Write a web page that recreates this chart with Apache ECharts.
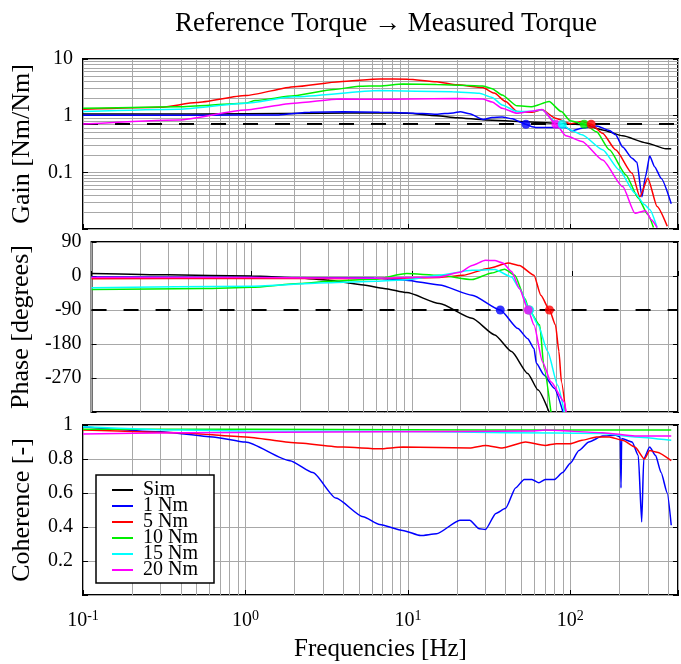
<!DOCTYPE html>
<html><head><meta charset="utf-8">
<script src="https://cdn.jsdelivr.net/npm/echarts@6/dist/echarts.min.js"></script>
<style>html,body{margin:0;padding:0;background:#fff}#c{width:681px;height:664px}</style>
</head><body><div id="c"></div>
<script>
// ---------- data (frequency [Hz], value) ----------
const seriesNames = ['Sim', '1 Nm', '5 Nm', '10 Nm', '15 Nm', '20 Nm'];

const gainSim = [[0.1,1.07],[0.3,1.07],[1,1.08],[3,1.1],[6,1.12],[10,1.1],[15,1.0],[20,0.92],[30,0.84],[53,0.78],[81,0.73],[122,0.7],[158,0.56],[210,0.44],[293,0.33],[388,0.26],[418,0.26]];
const gain1 = [[0.1,1.02],[0.5,1.02],[1.6,1.03],[2.5,1.15],[4,1.17],[6.7,1.15],[10,1.12],[15,1.06],[19,1.12],[21,1.17],[24,1.08],[29,0.86],[33,0.93],[38,0.95],[44,0.88],[50,0.76],[53,0.707],[58,0.64],[61,0.62],[80,0.62],[94,0.62],[102,0.54],[118,0.6],[145,0.66],[174,0.55],[190,0.46],[210,0.28],[240,0.178],[257,0.15],[276,0.037],[290,0.084],[308,0.195],[330,0.126],[362,0.079],[418,0.028]];
const gain5 = [[0.1,1.3],[0.3,1.41],[0.5,1.7],[1,2.26],[2,3.25],[3.8,3.98],[6.7,4.45],[10,4.4],[15,3.98],[20,3.5],[28.8,3.13],[34,2.5],[40,1.77],[47,1.18],[58,1.15],[67,1.27],[81,0.9],[100,0.72],[118,0.79],[134,0.707],[158,0.49],[190,0.25],[240,0.096],[268,0.037],[300,0.079],[342,0.025],[395,0.0112]];
const gain10 = [[0.1,1.35],[0.39,1.44],[1,1.66],[1.15,1.85],[2,2.25],[3.5,2.9],[5,3.3],[6.7,3.35],[9.3,3.62],[15,3.55],[28.8,3.35],[33,3.0],[38,2.31],[47,1.49],[58,1.44],[74,1.77],[88,1.18],[100,0.81],[121.7,0.707],[145,0.52],[174,0.25],[220,0.09],[262,0.035],[300,0.018],[325,0.0106]];
const gain15 = [[0.1,1.18],[0.39,1.3],[1,1.66],[2,2.15],[6.7,2.77],[18.8,2.65],[27.5,2.48],[33,2.1],[38,1.55],[47,1.18],[58,1.2],[67,1.27],[80,0.8],[89.2,0.707],[100,0.56],[118,0.46],[158,0.25],[200,0.11],[250,0.043],[286,0.027],[308,0.022],[342,0.0106]];
const gain20 = [[0.1,0.71],[0.39,0.84],[1,1.26],[2,1.66],[3.8,1.97],[6.7,1.94],[10,1.97],[20,2.0],[28.8,1.97],[33,1.75],[38,1.35],[47,1.1],[58,1.2],[67,1.29],[81.5,0.707],[94,0.44],[118,0.35],[158,0.165],[210,0.056],[250,0.019],[290,0.021],[315,0.0146],[342,0.0106]];

const phaseSim = [[0.1,6.5],[0.3,3],[1,0],[2,-5],[3,-11],[5,-24],[6.7,-33],[9.3,-44],[14.9,-73],[23.8,-112],[33,-156],[42,-200],[53,-258],[61.5,-302],[72,-360]];
const phase1 = [[0.1,-2.5],[1,-4],[5.8,-5],[9.2,-11],[14.9,-24],[23.8,-51],[35.7,-90],[46,-139],[53,-166],[58,-192],[60,-231],[67,-262],[77.6,-297],[88,-360]];
const phase5 = [[0.1,-7],[1,-6],[5.8,-7],[14.9,-4],[20.9,2],[30,20],[40,34.5],[47,28],[58,2],[64,-51],[72.4,-90],[79,-130],[83,-200],[86,-280],[91.5,-360]];
const phase10 = [[0.1,-36],[0.5,-33],[1,-30],[2,-20],[3,-14],[5.8,-8.6],[9.3,6.5],[14.9,2],[23.8,-9.5],[31.6,8],[38,18],[44,2],[51,-60],[54,-90],[63,-130],[67,-244],[74,-360]];
const phase15 = [[0.1,-31],[1,-27],[3,-18],[6,-14],[9.3,-9.6],[14.9,2],[23.8,15],[33,17],[42,-2.5],[47,-33],[54.5,-90],[61.5,-130],[70.6,-200],[81.5,-289],[89.6,-360]];
const phase20 = [[0.1,-4],[1,-4],[5.8,-6],[14.9,-2.5],[20,10],[23.8,28],[28.8,41.6],[33,41],[37,34.6],[42,12],[47,-33],[53.3,-90],[58,-130],[65.5,-227],[74,-280],[89.6,-333],[92,-360]];

const coh1 = [[0.1,0.99],[0.3,0.96],[0.63,0.93],[1,0.9],[1.88,0.79],[2.6,0.72],[3.6,0.57],[5.3,0.46],[6.7,0.415],[9.3,0.38],[12,0.35],[15,0.36],[20.9,0.44],[24,0.44],[27.5,0.39],[30,0.385],[34.8,0.48],[40,0.51],[46,0.63],[52,0.68],[58,0.68],[64,0.66],[70,0.68],[80,0.68],[89.6,0.72],[100,0.775],[113,0.85],[130,0.9],[158,0.935],[190,0.94],[203,0.93],[205,0.63],[207,0.92],[240,0.9],[262,0.82],[275,0.43],[283,0.8],[308,0.87],[335,0.82],[362,0.72],[395,0.6],[418,0.41]];
const coh5 = [[0.1,0.97],[0.39,0.955],[1,0.93],[2,0.896],[4,0.87],[6.7,0.86],[9.3,0.87],[24,0.865],[30,0.88],[38,0.865],[53,0.9],[70,0.88],[82,0.89],[100,0.89],[118,0.91],[145,0.93],[174,0.93],[210,0.91],[250,0.87],[286,0.8],[308,0.85],[342,0.84],[418,0.79]];
const coh10 = [[0.1,0.975],[1,0.975],[10,0.972],[100,0.97],[418,0.97]];
const coh15 = [[0.1,0.99],[0.4,0.97],[1,0.965],[10,0.962],[40,0.955],[158,0.95],[250,0.93],[418,0.91]];
const coh20 = [[0.1,0.947],[0.4,0.955],[6.7,0.96],[60,0.965],[70,0.97],[158,0.955],[250,0.935],[418,0.935]];

const gainRef = 0.707;   // -3 dB level
const phaseRef = -90;
const gainCross = [['1 Nm',53.3],['20 Nm',81.5],['15 Nm',89.2],['10 Nm',121.7],['5 Nm',134.4]];
const phaseCross = [['10 Nm',54],['15 Nm',54.5],['20 Nm',53.3],['1 Nm',35.7],['5 Nm',72.4]];

const xRange = [0.1, 460];
const gainRange = [0.01, 10];
const phaseRange = [-360, 90];
const cohRange = [0, 1];
const gainTickLabels = ['10', '1', '0.1'];
const xMinor = [0.2,0.3,0.4,0.5,0.6,0.7,0.8,0.9,2,3,4,5,6,7,8,9,20,30,40,50,60,70,80,90,200,300,400];
const gainMinor = [0.02,0.03,0.04,0.05,0.06,0.07,0.08,0.09,0.2,0.3,0.4,0.5,0.6,0.7,0.8,0.9,2,3,4,5,6,7,8,9];

// ---------- styles ----------
const colors = {'Sim':'#000000','1 Nm':'#0000ff','5 Nm':'#ff0000','10 Nm':'#00ee00','15 Nm':'#00ffff','20 Nm':'#ff00ff'};
const FONT = 'Liberation Serif, Times New Roman, serif';
const GRIDC = '#a8a8a8';

const grids = [
  {left:83, right:3, top:59, height:170},
  {left:83, right:3, top:242, height:170},
  {left:83, right:3, top:425, height:170}
].map(g => Object.assign(g, {show:true, borderColor:'#000', borderWidth:2, backgroundColor:'rgba(0,0,0,0)'}));

function near(a, b) { return Math.abs(a - b) <= 1e-6 * Math.max(1, Math.abs(b)); }

const xAxes = [0,1,2].map(i => ({
  type:'log', logBase:10, gridIndex:i, min:xRange[0], max:xRange[1],
  axisLine:{show:false},
  axisTick:{show:true, inside:true, length:5, lineStyle:{color:'#000'}},
  splitLine:{show:true, lineStyle:{color:GRIDC, width:1}},
  axisLabel:{show:i===2, margin:14, color:'#000', fontFamily:FONT, fontSize:20,
    formatter: v => { const e = Math.round(Math.log10(v)); if (!near(v, Math.pow(10,e))) return ''; return '{b|10}{s|' + e + '}'; },
    rich:{ b:{fontSize:20, fontFamily:FONT, color:'#000'}, s:{fontSize:14, fontFamily:FONT, color:'#000', padding:[0,0,10,0]} } },
  name: i===2 ? 'Frequencies [Hz]' : '', nameLocation:'middle', nameGap:42,
  nameTextStyle:{fontFamily:FONT, fontSize:25, color:'#000'}
}));

const yCommon = {axisLine:{show:false}, axisTick:{show:true, inside:true, length:5, lineStyle:{color:'#000'}},
  splitLine:{show:true, lineStyle:{color:GRIDC, width:1}},
  nameLocation:'middle', nameRotate:90, nameGap:48,
  nameTextStyle:{fontFamily:FONT, fontSize:26, color:'#000'}};
const lab = f => ({color:'#000', fontFamily:FONT, fontSize:20, margin:10, formatter:f});

const yAxes = [
  Object.assign({}, yCommon, {type:'log', logBase:10, gridIndex:0, min:gainRange[0], max:gainRange[1], name:'Gain [Nm/Nm]',
    axisLabel: lab(v => { for (const t of gainTickLabels) if (near(v, parseFloat(t))) return t; return ''; })}),
  Object.assign({}, yCommon, {type:'value', gridIndex:1, min:phaseRange[0], max:phaseRange[1], interval:90, name:'Phase [degrees]',
    axisLabel: lab(v => v === phaseRange[0] ? '' : String(v))}),
  Object.assign({}, yCommon, {type:'value', gridIndex:2, min:cohRange[0], max:cohRange[1], interval:0.2, name:'Coherence [-]',
    axisLabel: lab(v => near(v,0) ? '' : (near(v,1) ? '1' : v.toFixed(1)))})
];
// right-hand tick-only axes (mirror of the left ones)
yAxes.slice(0,3).forEach((a, i) => {
  yAxes.push(Object.assign({}, a, {position:'right', name:'', axisLabel:{show:false}, splitLine:{show:false}, gridIndex:i}));
});

function gridLines(gi, withY) {
  const d = xMinor.map(v => ({xAxis:v}));
  if (withY) gainMinor.forEach(v => d.push({yAxis:v}));
  return {type:'line', xAxisIndex:gi, yAxisIndex:gi, data:[], silent:true, z:1, animation:false,
    markLine:{silent:true, animation:false, symbol:['none','none'], label:{show:false}, z:1,
      lineStyle:{color:GRIDC, type:'solid', width:1}, emphasis:{disabled:true}, data:d}};
}
function refLine(gi, val) {
  return {type:'line', xAxisIndex:gi, yAxisIndex:gi, data:[], silent:true, z:2, animation:false,
    markLine:{silent:true, animation:false, symbol:['none','none'], label:{show:false}, z:2,
      lineStyle:{color:'#000', type:[15,17], width:1.8}, emphasis:{disabled:true}, data:[{yAxis:val}]}};
}
function curve(name, data, gi) {
  const c = colors[name];
  return {type:'line', name, data, xAxisIndex:gi, yAxisIndex:gi, showSymbol:false, symbol:'none',
    smooth:0.2, smoothMonotone:'x',
    lineStyle:{color:c, width:1.5}, itemStyle:{color:c}, z:3, animation:false, clip:true, emphasis:{disabled:true}};
}
function dots(gi, list, yv) {
  return {type:'scatter', xAxisIndex:gi, yAxisIndex:gi, symbolSize:9, z:4, animation:false, silent:true,
    data: list.map(([n,f]) => ({value:[f,yv], itemStyle:{color:colors[n]}}))};
}

const series = [
  gridLines(0, true), gridLines(1, false), gridLines(2, false),
  refLine(0, gainRef), refLine(1, phaseRef),
  curve('Sim', gainSim, 0), curve('1 Nm', gain1, 0), curve('5 Nm', gain5, 0), curve('10 Nm', gain10, 0), curve('15 Nm', gain15, 0), curve('20 Nm', gain20, 0),
  curve('Sim', phaseSim, 1), curve('1 Nm', phase1, 1), curve('5 Nm', phase5, 1), curve('10 Nm', phase10, 1), curve('15 Nm', phase15, 1), curve('20 Nm', phase20, 1),
  curve('1 Nm', coh1, 2), curve('5 Nm', coh5, 2), curve('10 Nm', coh10, 2), curve('15 Nm', coh15, 2), curve('20 Nm', coh20, 2),
  dots(0, gainCross, gainRef), dots(1, phaseCross, phaseRef)
];

const chart = echarts.init(document.getElementById('c'), null, {renderer:'canvas'});
chart.setOption({
  animation:false,
  backgroundColor:'#fff',
  title:{text:'Reference Torque \u2192 Measured Torque', left:381, textAlign:'center', top:5,
    textStyle:{fontFamily:FONT, fontSize:27, fontWeight:'normal', color:'#000'}},
  legend:{orient:'vertical', left:96, top:475, data:seriesNames.map(n => ({name:n, icon:'rect'})),
    itemWidth:21, itemHeight:2, itemGap:-4, padding:[5,16,3,16],
    borderColor:'#000', borderWidth:1.5, backgroundColor:'#fff', selectedMode:false, z:10,
    textStyle:{fontFamily:FONT, fontSize:20, color:'#000', padding:[0,0,0,5]}},
  grid:grids, xAxis:xAxes, yAxis:yAxes, series
});
</script></body></html>
